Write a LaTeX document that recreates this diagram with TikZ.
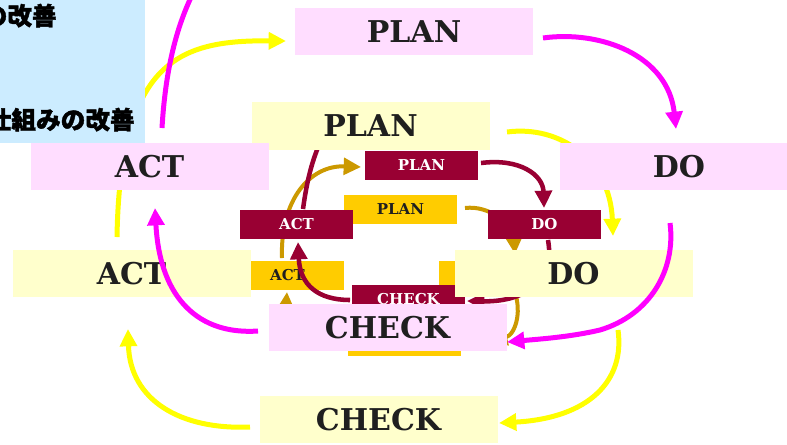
\documentclass[tikz,border=0pt]{standalone}
\usepackage{fontspec}
\setmainfont{DejaVu Serif}
\newfontfamily\jpfont{Noto Sans CJK JP}[BoldFeatures={FakeBold=1.6}]
\usetikzlibrary{arrows.meta}
\definecolor{pinkbox}{RGB}{255,221,255}
\definecolor{creambox}{RGB}{255,255,204}
\definecolor{skybox}{RGB}{204,236,255}
\definecolor{wine}{RGB}{153,0,51}
\definecolor{goldbox}{RGB}{255,204,0}
\definecolor{goldline}{RGB}{204,153,0}
\definecolor{fuchsia}{RGB}{255,0,255}
\definecolor{lemon}{RGB}{255,255,0}

\begin{document}
\begin{tikzpicture}[x=0.75pt,y=0.75pt,yscale=-1,xscale=1,
  bigstep/.style={minimum width=178.5pt,minimum height=35.5pt,inner sep=0pt,text=black!88,font=\fontsize{22.5}{24}\selectfont\bfseries},
  smallstep/.style={minimum width=84.75pt,minimum height=21.75pt,inner sep=0pt,font=\fontsize{11.25}{12}\selectfont\bfseries},
  pinkstep/.style={bigstep,fill=pinkbox},
  creamstep/.style={bigstep,fill=creambox},
  winestep/.style={smallstep,fill=wine,text=white},
  goldstep/.style={smallstep,fill=goldbox,text=black!88},
  note/.style={anchor=base east,inner sep=0pt,font=\jpfont\bfseries\fontsize{18.5}{20}\selectfont},
  tip/.style={-{Triangle[length=13pt,width=12.5pt]}},
  magline/.style={draw=fuchsia,line width=3.75pt},
  yelline/.style={draw=lemon,line width=3.75pt},
  goldcurve/.style={draw=goldline,line width=3pt},
  winecurve/.style={draw=wine,line width=3.4pt}]
\useasboundingbox (0,0) rectangle (787,444);

%small gold cycle
\node[goldstep] (gPlan) at (400.5,209.5) {PLAN};
\node[goldstep] (gAct) at (287.5,275.5) {ACT};
\node[goldstep] (gDo) at (495.5,275.5) {};
\node[goldstep] (gCheck) at (404.5,341.5) {};
\coordinate (gActOut) at (282,258);
\coordinate (gPlanIn) at (361,167);
\coordinate (gPlanOut) at (465,208);
\coordinate (gDoIn) at (515,254);
\coordinate (gDoOut) at (512,285);
\coordinate (gCheckIn) at (490,341);
\coordinate (gCheckOut) at (330,345);
\coordinate (gActIn) at (287,292);
\draw[goldcurve,tip] (gActOut) .. controls (280,200) and (310,165) .. (gPlanIn);
\draw[goldcurve,tip] (gPlanOut) .. controls (490,205) and (513,225) .. (gDoIn);
\draw[goldcurve,tip] (gDoOut) .. controls (524,310) and (515,335) .. (gCheckIn);
\draw[goldcurve,tip] (gCheckOut) .. controls (295,340) and (285,320) .. (gActIn);

%small wine cycle
\node[winestep] (rPlan) at (421.5,165) {PLAN};
\node[winestep] (rAct) at (296.5,224.5) {ACT};
\node[winestep] (rDo) at (544.5,224.5) {DO};
\node[winestep] (rCheck) at (408.5,299.5) {CHECK};
\coordinate (rPlanOut) at (481,163);
\coordinate (rDoIn) at (544,208);
\coordinate (rDoOut) at (548,240);
\coordinate (rCheckIn) at (467,301);
\coordinate (rCheckOut) at (350,300);
\coordinate (rActIn) at (298,242);
\coordinate (rActOut) at (303,209);
\coordinate (rPlanHid) at (322,138);
\draw[winecurve,tip] (rPlanOut) .. controls (520,158) and (543,175) .. (rDoIn);
\draw[winecurve,tip] (rDoOut) .. controls (556,285) and (520,302) .. (rCheckIn);
\draw[winecurve,tip] (rCheckOut) .. controls (318,300) and (300,285) .. (rActIn);
\draw[winecurve] (rActOut) .. controls (307,180) and (312,160) .. (rPlanHid);

%cream cycle
\node[creamstep] (yPlan) at (370.5,126) {PLAN};
\node[creamstep] (yDo) at (573.5,273.5) {DO};
\node[creamstep] (yAct) at (131.5,273.5) {ACT};
\node[creamstep] (yCheck) at (378.5,419.5) {CHECK};
\coordinate (yActOut) at (117,237);
\coordinate (yPlanIn) at (286,41);
\coordinate (yPlanOut) at (507,132);
\coordinate (yDoIn) at (613,236);
\coordinate (yDoOut) at (618,330);
\coordinate (yCheckIn) at (499,423);
\coordinate (yCheckOut) at (250,427);
\coordinate (yActIn) at (128,329);
\draw[yelline,tip] (yActOut) .. controls (120,60) and (180,40) .. (yPlanIn);
\draw[yelline,tip] (yPlanOut) .. controls (560,125) and (610,160) .. (yDoIn);
\draw[yelline,tip] (yDoOut) .. controls (625,380) and (590,418) .. (yCheckIn);
\draw[yelline,tip] (yCheckOut) .. controls (180,430) and (130,400) .. (yActIn);

%note box
\fill[skybox] (-10,-10) rectangle (145,143);
\node[note] (noteA) at (57,25) {の改善};
\node[note] (noteB) at (135,129) {仕組みの改善};

%pink cycle
\node[pinkstep] (pPlan) at (414,31.5) {PLAN};
\node[pinkstep] (pDo) at (679,166.5) {DO};
\node[pinkstep] (pAct) at (149.5,166.5) {ACT};
\node[pinkstep] (pCheck) at (387.5,327.5) {CHECK};
\coordinate (mActOut) at (162,128);
\coordinate (mTopOut) at (200,-20);
\coordinate (mPlanOut) at (543,38);
\coordinate (mDoIn) at (676,129);
\coordinate (mDoOut) at (670,223);
\coordinate (mBend) at (600,330);
\coordinate (mCheckIn) at (507,342);
\coordinate (mCheckOut) at (258,331);
\coordinate (mActIn) at (155,208);
\draw[magline] (mActOut) .. controls (166,60) and (180,15) .. (mTopOut);
\draw[magline,tip] (mPlanOut) .. controls (600,30) and (668,55) .. (mDoIn);
\draw[magline,tip] (mDoOut) .. controls (676,270) and (650,315) .. (mBend) .. controls (570,337) and (540,339) .. (mCheckIn);
\draw[magline,tip] (mCheckOut) .. controls (200,335) and (160,300) .. (mActIn);

\end{tikzpicture}
\end{document}
